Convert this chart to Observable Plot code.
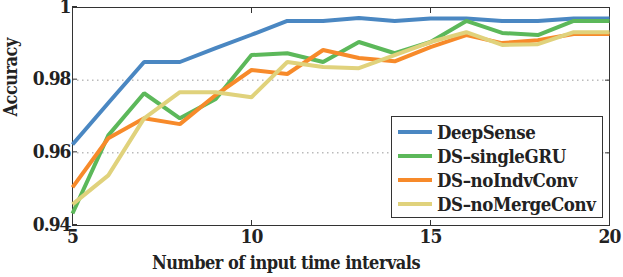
<!DOCTYPE html>
<html>
<head>
<meta charset="utf-8">
<script src="https://cdn.jsdelivr.net/npm/d3@7"></script>
<script src="https://cdn.jsdelivr.net/npm/@observablehq/plot@0.6"></script>
<style>
  html, body { margin: 0; padding: 0; background: #fff; }
  #wrap { position: relative; width: 623px; height: 277px; }
  #wrap svg { font-stretch: condensed; }
  .tick-lab text { letter-spacing: -1px; }
  .ttl text { letter-spacing: -0.5px; }
  #legend {
    position: absolute; left: 391px; top: 116px; width: 212px; height: 102px;
    border: 1px solid #333; background: #fff; box-sizing: border-box;
    font-family: "DejaVu Serif", serif; font-stretch: condensed;
    font-weight: bold; font-size: 18.5px; color: #222; letter-spacing: -0.4px;
    padding-top: 3px;
  }
  .item { display: flex; align-items: center; height: 24px; white-space: nowrap; }
  .sw { width: 34px; height: 4px; margin-left: 6px; margin-right: 5px; flex: none; }
</style>
</head>
<body>
<div id="wrap"></div>
<script>
const intervals = [5,6,7,8,9,10,11,12,13,14,15,16,17,18,19,20];
const deepSense   = [0.9623,0.9737,0.9850,0.9850,0.9888,0.9925,0.9963,0.9963,0.9971,0.9963,0.9970,0.9970,0.9963,0.9963,0.9970,0.9970];
const singleGRU   = [0.9433,0.9648,0.9764,0.9695,0.9748,0.9869,0.9874,0.9850,0.9905,0.9874,0.9905,0.9963,0.9930,0.9924,0.9963,0.9963];
const noIndvConv  = [0.9505,0.9640,0.9695,0.9679,0.9759,0.9828,0.9817,0.9883,0.9861,0.9852,0.9891,0.9924,0.9902,0.9910,0.9927,0.9927];
const noMergeConv = [0.9458,0.9538,0.9695,0.9767,0.9767,0.9753,0.9850,0.9836,0.9833,0.9869,0.9905,0.9932,0.9897,0.9899,0.9932,0.9932];
const seriesNames = ["DeepSense","DS\u2013singleGRU","DS\u2013noIndvConv","DS\u2013noMergeConv"];
const seriesColors = ["#4a87c2","#5cb85a","#f78a2a","#e0d27c"];
const xTicks = [5,10,15,20];
const yTicks = [0.94,0.96,0.98,1];
const yTickLabels = ["0.94","0.96","0.98","1"];
const gridY = [0.96,0.98];

const allSeries = [deepSense, singleGRU, noIndvConv, noMergeConv];
const rows = [];
allSeries.forEach((vals, si) => vals.forEach((v, i) => rows.push({x: intervals[i], y: v, s: seriesNames[si]})));

const font = "DejaVu Serif";
const chart = Plot.plot({
  width: 623, height: 277,
  marginLeft: 72, marginRight: 14, marginTop: 7, marginBottom: 52,
  style: {fontFamily: font, fontWeight: "bold", fontSize: "18px", color: "#222", background: "#fff", overflow: "visible"},
  x: {domain: [5, 20]},
  y: {domain: [0.94, 1]},
  color: {domain: seriesNames, range: seriesColors},
  marks: [
    Plot.ruleY(gridY, {stroke: "#999", strokeDasharray: "1.5,3.5", strokeWidth: 1}),
    Plot.frame({stroke: "#333", strokeWidth: 1}),
    Plot.axisX(xTicks, {anchor: "bottom", tickSize: -5, tickPadding: 9, label: null, stroke: "#333", fontSize: 19, fontFamily: font, className: "tick-lab"}),
    Plot.axisX(xTicks, {anchor: "top", tickSize: -5, tickFormat: () => "", label: null, stroke: "#333"}),
    Plot.axisY(yTicks, {anchor: "left", tickSize: -5, tickPadding: 7, dy: -1, label: null, stroke: "#333", fontSize: 19, fontFamily: font, className: "tick-lab",
      tickFormat: (d) => yTickLabels[yTicks.indexOf(d)]}),
    Plot.axisY(yTicks, {anchor: "right", tickSize: -5, tickFormat: () => "", label: null, stroke: "#333"}),
    ...seriesNames.map(name => Plot.line(rows.filter(r => r.s === name), {x: "x", y: "y", stroke: "s", strokeWidth: 4, strokeLinejoin: "miter", strokeLinecap: "butt"})),
    Plot.text(["Number of input time intervals"], {frameAnchor: "bottom", lineAnchor: "middle", dy: 38, dx: -55, fontSize: 18, fontWeight: "bold", fill: "#222", fontFamily: font, className: "ttl"}),
    Plot.text(["Accuracy"], {frameAnchor: "left", lineAnchor: "middle", dx: -61, rotate: -90, fontSize: 18, fontWeight: "bold", fill: "#222", fontFamily: font, className: "ttl"})
  ]
});
const wrap = document.getElementById("wrap");
wrap.appendChild(chart);
const legend = document.createElement("div");
legend.id = "legend";
seriesNames.forEach((n, i) => {
  const it = document.createElement("div");
  it.className = "item";
  const sw = document.createElement("span");
  sw.className = "sw";
  sw.style.background = seriesColors[i];
  const t = document.createElement("span");
  t.textContent = n;
  it.appendChild(sw); it.appendChild(t);
  legend.appendChild(it);
});
wrap.appendChild(legend);
</script>
</body>
</html>
